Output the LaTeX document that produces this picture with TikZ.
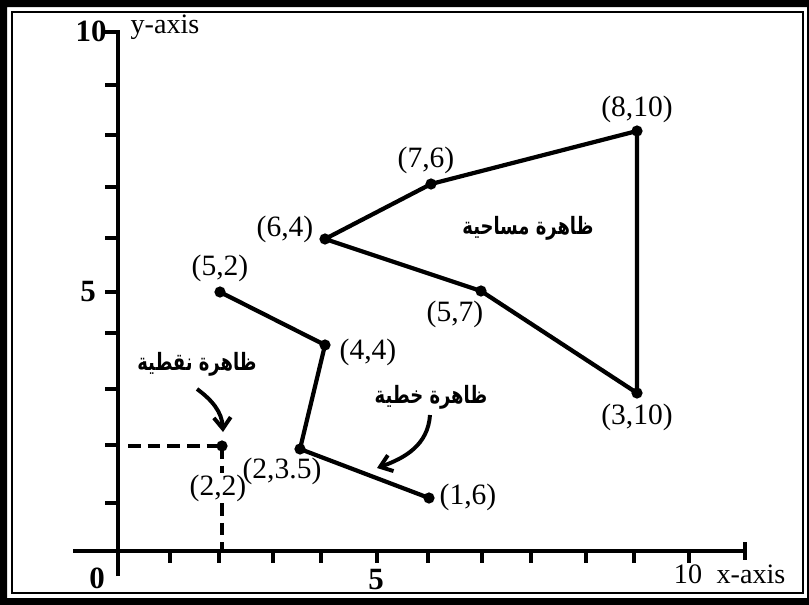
\documentclass[tikz,border=0pt]{standalone}
\usepackage{fontspec}
\setmainfont{Liberation Serif}
\newfontfamily\arabicfont[Script=Arabic,FakeStretch=0.75]{DejaVu Sans}
\TeXXeTstate=1
\usetikzlibrary{calc,arrows.meta}

\tikzset{
  pt/.style={circle,fill,inner sep=0pt,minimum size=8pt},
  lab/.style={font=\fontsize{21}{25}\selectfont,inner sep=1pt},
  axlab/.style={font=\fontsize{20}{24}\selectfont,inner sep=1pt},
  num/.style={font=\fontsize{22}{26}\selectfont\bfseries,inner sep=1pt},
  ar/.style={font=\arabicfont\bfseries\fontsize{17}{20}\selectfont,inner sep=2pt},
  seg/.style={line width=3pt,line join=round},
  axis/.style={line width=3.2pt},
  tick/.style={line width=2.8pt},
  dashline/.style={line width=3pt,dash pattern=on 9pt off 5pt},
  pointer/.style={line width=2.8pt,-{Straight Barb[length=8pt,width=12pt]}},
}

\begin{document}
\begin{tikzpicture}[x=0.025cm,y=-0.025cm]
\useasboundingbox (0,0) rectangle (809,605);
% frame
\fill[even odd rule] (0,0) rectangle (809,605) (7,7) rectangle (807,598);
\draw[line width=1.6pt] (12,12) rectangle (803,593);

% axes
\coordinate (xstart) at (73,551);
\coordinate (xend) at (745,551);
\coordinate (ytop) at (118,30);
\coordinate (ybot) at (118,576);
\draw[axis] (xstart) -- (xend);
\draw[axis] (ybot) -- (ytop);
\draw[axis] ($(xend)+(0,-9)$) -- ($(xend)+(0,9)$);
\foreach \x in {170,219,273,321,377,428,482,531,586,634,689}
  \draw[tick] (\x,551) -- (\x,563);
\foreach \y in {32,85,135,187,238,292,333,389,445,503}
  \draw[tick] (105,\y) -- (118,\y);

\node[num] (y10) at (91,31) {10};
\node[axlab] (ylab) at (165,27) {y-axis};
\node[num] (y5) at (88,292) {5};
\node[num] (x0) at (97,578) {0};
\node[num] (x5) at (376,580) {5};
\node[axlab] (x10) at (688,574) {10};
\node[axlab] (xlab) at (751,574) {x-axis};

% area
\node[pt] (a1) at (325,239) {};
\node[pt] (a2) at (431,184) {};
\node[pt] (a3) at (637,131) {};
\node[pt] (a4) at (637,393) {};
\node[pt] (a5) at (481,291) {};
\draw[seg] (a1.center) -- (a2.center) -- (a3.center) -- (a4.center) -- (a5.center) -- cycle;
\node[lab] at (285,229) {(6,4)};
\node[lab] at (426,160) {(7,6)};
\node[lab] at (637,109) {(8,10)};
\node[lab] at (637,417) {(3,10)};
\node[lab] at (455,314) {(5,7)};
\node[ar] (arA) at (528,228) {\beginR ظاهرة مساحية\endR};

% line
\node[pt] (b1) at (220,292) {};
\node[pt] (b2) at (325,345) {};
\node[pt] (b3) at (300,449) {};
\node[pt] (b4) at (429,498) {};
\draw[seg] (b1.center) -- (b2.center) -- (b3.center) -- (b4.center);
\node[lab] at (220,268) {(5,2)};
\node[lab] at (368,352) {(4,4)};
\node[lab] at (282,471) {(2,3.5)};
\node[lab] at (468,497) {(1,6)};
\node[ar] (arL) at (431,397) {\beginR ظاهرة خطية\endR};

% point
\node[pt] (c) at (222,446) {};
\node[lab] (clab) at (218,488) {(2,2)};
\coordinate (cy) at (128,446);
\coordinate (cx) at (222,551);
\draw[dashline] (cy) -- (c.center);
\draw[dashline] (c.center) -- (clab.north -| c);
\draw[dashline] (clab.south -| c) -- (cx);
\node[ar] (arP) at (197,364) {\beginR ظاهرة نقطية\endR};

% pointers
\coordinate (k1) at (197,389);
\coordinate (t1) at (223,432);
\coordinate (k2) at (430,415);
\coordinate (t2) at (377,468);
\draw[pointer] (k1) .. controls (212,400) and (222,412) .. (t1);
\draw[pointer] (k2) .. controls (428,445) and (405,458) .. (t2);
\end{tikzpicture}
\end{document}
